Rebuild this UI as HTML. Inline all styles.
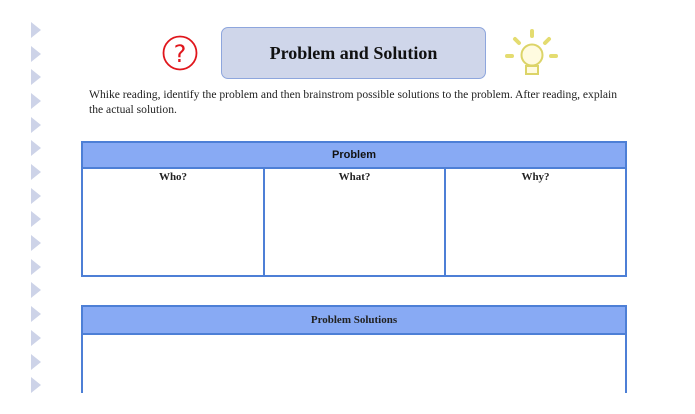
<!DOCTYPE html>
<html><head><style>
body{margin:0;width:695px;height:414px;background:#fff;position:relative;overflow:hidden;font-family:"Liberation Serif",serif}
.a{position:absolute}
.tri{position:absolute;left:31px;width:0;height:0;border-top:8px solid transparent;border-bottom:8px solid transparent;border-left:10px solid #cdd3e8}
.title{left:221px;top:27px;width:263px;height:50px;background:#cfd6ea;border:1px solid #8ea6dd;border-radius:7px;font-weight:bold;font-size:18px;text-align:center;line-height:50px;color:#111}
.txt{left:89px;top:87px;width:600px;font-size:11.6px;line-height:15px;color:#222;white-space:nowrap}
.box{border:2px solid #4d7fd6;box-sizing:border-box}
.hdr{background:#88aaf4;border-bottom:2px solid #4d7fd6;box-sizing:border-box}
.col{position:absolute;top:0;font-weight:bold;font-size:11px;text-align:center;color:#222}
</style></head><body>
<div class="tri" style="top:22px"></div>
<div class="tri" style="top:46px"></div>
<div class="tri" style="top:69px"></div>
<div class="tri" style="top:93px"></div>
<div class="tri" style="top:117px"></div>
<div class="tri" style="top:140px"></div>
<div class="tri" style="top:164px"></div>
<div class="tri" style="top:188px"></div>
<div class="tri" style="top:211px"></div>
<div class="tri" style="top:235px"></div>
<div class="tri" style="top:259px"></div>
<div class="tri" style="top:282px"></div>
<div class="tri" style="top:306px"></div>
<div class="tri" style="top:330px"></div>
<div class="tri" style="top:354px"></div>
<div class="tri" style="top:377px"></div>

<svg class="a" style="left:0;top:0" width="695" height="414">
<circle cx="180" cy="53" r="16.5" fill="none" stroke="#e0161c" stroke-width="1.8"/>
<text x="180" y="62" font-family="DejaVu Sans,sans-serif" font-size="24" fill="#e0161c" text-anchor="middle">?</text>
<g stroke="#dcd468" fill="none" stroke-width="2">
<circle cx="532" cy="55" r="10.5" fill="#fffbe0"/>
<rect x="526" y="66" width="12" height="8" fill="#fffbe0"/>
</g>
<g stroke="#e4dc70" stroke-width="4" stroke-linecap="round">
<line x1="532" y1="31" x2="532" y2="36"/>
<line x1="507" y1="56" x2="512" y2="56"/>
<line x1="551" y1="56" x2="556" y2="56"/>
<line x1="515" y1="39" x2="519" y2="43"/>
<line x1="549" y1="39" x2="545" y2="43"/>
</g>
</svg>

<div class="a title">Problem and Solution</div>
<div class="a txt">Whike reading, identify the problem and then brainstrom possible solutions to the problem. After reading, explain<br>the actual solution.</div>

<div class="a box" style="left:81px;top:141px;width:546px;height:136px">
 <div class="hdr" style="height:26px;font-family:'Liberation Sans',sans-serif;font-weight:bold;font-size:11px;text-align:center;line-height:24px;color:#111">Problem</div>
 <div style="position:relative">
  <div class="col" style="left:0;width:180px;top:2px">Who?</div>
  <div class="col" style="left:180px;width:181px;border-left:2px solid #4d7fd6;height:106px;top:0;padding-top:2px;box-sizing:border-box">What?</div>
  <div class="col" style="left:361px;width:181px;border-left:2px solid #4d7fd6;height:106px;padding-top:2px;box-sizing:border-box">Why?</div>
 </div>
</div>

<div class="a" style="left:81px;top:305px;width:546px;height:88px;border:2px solid #4d7fd6;border-bottom:none;box-sizing:border-box">
 <div class="hdr" style="height:28px;font-weight:bold;font-size:11px;text-align:center;line-height:26px;color:#222">Problem Solutions</div>
</div>
</body></html>
